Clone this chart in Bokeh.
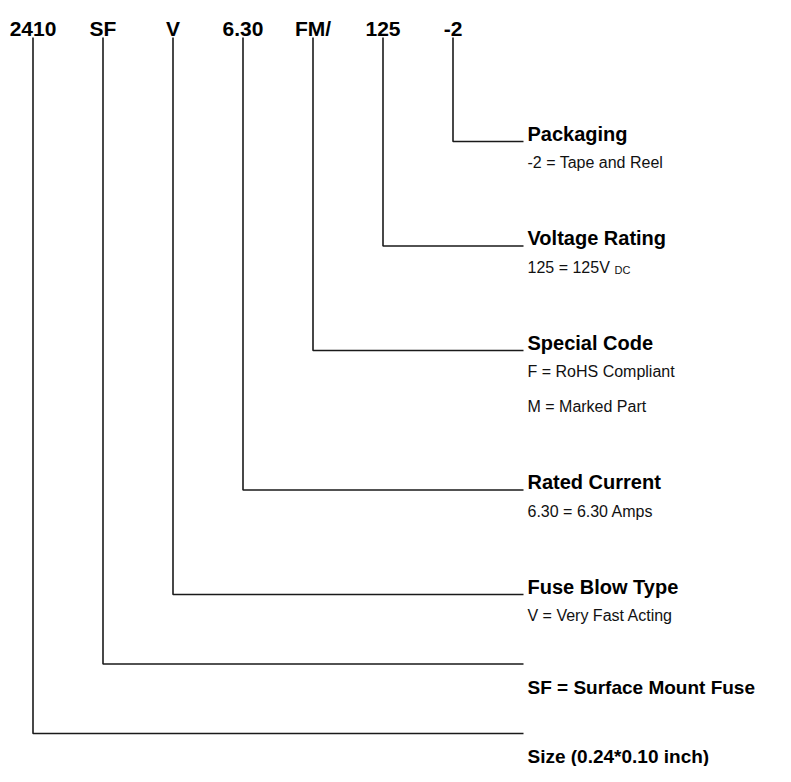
from bokeh.plotting import figure
from bokeh.models import Range1d
from bokeh.core.properties import value
from bokeh.embed import file_html
from bokeh.resources import INLINE

# ---- data (legend column top-to-bottom = part-number codes right-to-left) ----
codes = ["2410", "SF", "V", "6.30", "FM/", "125", "-2"]
titles = ["Packaging", "Voltage Rating", "Special Code", "Rated Current", "Fuse Blow Type", None, None]
descriptions = [
    ["-2 = Tape and Reel"],
    ["125 = 125V"],
    ["F = RoHS Compliant", "M = Marked Part"],
    ["6.30 = 6.30 Amps"],
    ["V = Very Fast Acting"],
    ["SF = Surface Mount Fuse"],
    ["Size (0.24*0.10 inch)"],
]
subscript = {1: "DC"}          # subscript appended to the description of item 1
bold_desc = [False, False, False, False, False, True, True]

# ---- layout ----
W, H = 775, 766
X0, XSTEP = 32.5, 70.0        # x of the first code and spacing of codes
LABEL_BASE = 28               # baseline of code labels
LINE_TOP = 37                 # where the leader lines start
FIRST_LEVEL = 141             # y of the first horizontal leader
LINE_H = 35                   # text line pitch
GAP = 34.5                    # base gap between levels
X_END = 523                   # end of the horizontal leaders
X_TEXT = 527                  # x of the legend texts

FONT = "'Liberation Sans', Arial, sans-serif"
INK = "#1a1a1a"

p = figure(width=W, height=H, output_backend="svg", toolbar_location=None,
           x_range=Range1d(0, W), y_range=Range1d(H, 0),
           min_border=0, outline_line_color=None)
p.axis.visible = False
p.grid.visible = False
p.background_fill_color = "white"
p.border_fill_color = "white"

n = len(codes)
code_x = [X0 + XSTEP * i for i in range(n)]

# level y for each legend item (top to bottom)
levels = []
y = FIRST_LEVEL
for k in range(n):
    levels.append(y)
    below = len(descriptions[k])
    title_next = 1 if (k + 1 < n and titles[k + 1]) else 0
    y = y + GAP + LINE_H * (below + title_next)

# leader lines: item k (top-to-bottom) belongs to code index n-1-k
xs, ys = [], []
for k in range(n):
    cx = code_x[n - 1 - k]
    xs.append([cx, cx, X_END])
    ys.append([LINE_TOP, levels[k], levels[k]])
p.multi_line(xs=xs, ys=ys, line_color=INK, line_width=1.6)

# code labels
p.text(x=code_x, y=[LABEL_BASE] * n, text=codes, text_align="center",
       text_baseline="alphabetic", text_font=value(FONT), text_font_style="bold",
       text_font_size="21px", text_color="black")

# titles
tx, ty, tt = [], [], []
for k in range(n):
    if titles[k]:
        tx.append(X_TEXT); ty.append(levels[k] - 8); tt.append(titles[k])
p.text(x=tx, y=ty, text=tt, text_baseline="alphabetic", text_font=value(FONT),
       text_font_style="bold", text_font_size="20px", text_color="black")

# descriptions
dx, dy, dt = [], [], []
bx, by, bt = [], [], []
for k in range(n):
    for j, line in enumerate(descriptions[k]):
        if bold_desc[k]:
            bx.append(X_TEXT); by.append(levels[k] + 23 + LINE_H * j); bt.append(line)
        else:
            dx.append(X_TEXT); dy.append(levels[k] + 21 + LINE_H * j); dt.append(line)
p.text(x=dx, y=dy, text=dt, text_baseline="alphabetic", text_font=value(FONT),
       text_font_size="16px", text_color="#111111")
p.text(x=bx, y=by, text=bt, text_baseline="alphabetic", text_font=value(FONT),
       text_font_style="bold", text_font_size="19px", text_color="black")

# subscript
for k, s in subscript.items():
    p.text(x=[X_TEXT + 87], y=[levels[k] + 24], text=[s], text_baseline="alphabetic",
           text_font=value(FONT), text_font_size="11px", text_color="#111111")

open("out.html", "w").write(file_html(p, INLINE))
